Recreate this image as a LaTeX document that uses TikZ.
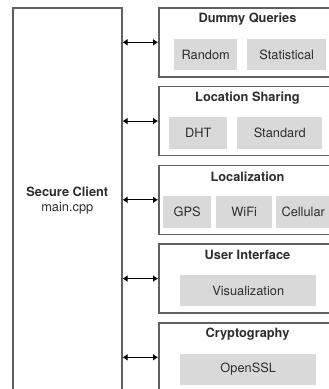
\documentclass[tikz,border=0pt]{standalone}
\usepackage{fontspec}
\setmainfont{TeX Gyre Heros}
\usetikzlibrary{arrows.meta}
\definecolor{frame}{HTML}{606060}
\definecolor{cell}{HTML}{D9D9D9}
\definecolor{ink}{HTML}{2E2E2E}
\begin{document}
\begin{tikzpicture}[x=1pt,y=-1pt,
  font=\fontsize{12.8}{15}\selectfont,
  module/.style={draw=frame, line width=1.6pt, minimum width=179pt,
    minimum height=69pt, anchor=north west, inner sep=0pt},
  cellbox/.style={fill=cell, text=ink, inner sep=0pt, minimum height=31.5pt,
    anchor=north west},
  heading/.style={text=ink, font=\fontsize{12.8}{15}\selectfont\bfseries},
  link/.style={{Latex[length=5pt,width=7pt]}-{Latex[length=5pt,width=7pt]},
    line width=1.1pt}]
\useasboundingbox (0,0) rectangle (329,389);
\clip (0,0) rectangle (329,389);

% client process
\node[draw=frame, line width=1.6pt, minimum width=109pt, minimum height=386pt,
  anchor=north west, align=center, text=ink] (client) at (12,7)
  {\textbf{Secure Client}\\main.cpp};

% modules
\node[module] (m1) at (158,7) {};
\node[module] (m2) at (158,85.75) {};
\node[module] (m3) at (158,164.5) {};
\node[module] (m4) at (158,243.25) {};
\node[module] (m5) at (158,322) {};

\node[heading] (t1) at (247.5,19) {Dummy Queries};
\node[heading] (t2) at (247.5,97.75) {Location Sharing};
\node[heading] (t3) at (247.5,176.5) {Localization};
\node[heading] (t4) at (247.5,255.25) {User Interface};
\node[heading] (t5) at (247.5,334) {Cryptography};

% components
\node[cellbox, minimum width=63pt] (random) at (174,38.5) {Random};
\node[cellbox, minimum width=79pt] (stat) at (247,38.5) {Statistical};
\node[cellbox, minimum width=58pt] (dht) at (169,117.25) {DHT};
\node[cellbox, minimum width=85pt] (std) at (237,117.25) {Standard};
\node[cellbox, minimum width=48pt] (gps) at (163,196) {GPS};
\node[cellbox, minimum width=56pt] (wifi) at (216,196) {WiFi};
\node[cellbox, minimum width=54pt] (cell) at (276,196) {Cellular};
\node[cellbox, minimum width=136pt] (vis) at (180,274.75) {Visualization};
\node[cellbox, minimum width=136pt] (ssl) at (180,353.5) {OpenSSL};

% links
\foreach \m in {m1,m2,m3,m4,m5}
  \draw[link] (client.east |- \m.west) -- (\m.west);
\end{tikzpicture}
\end{document}
